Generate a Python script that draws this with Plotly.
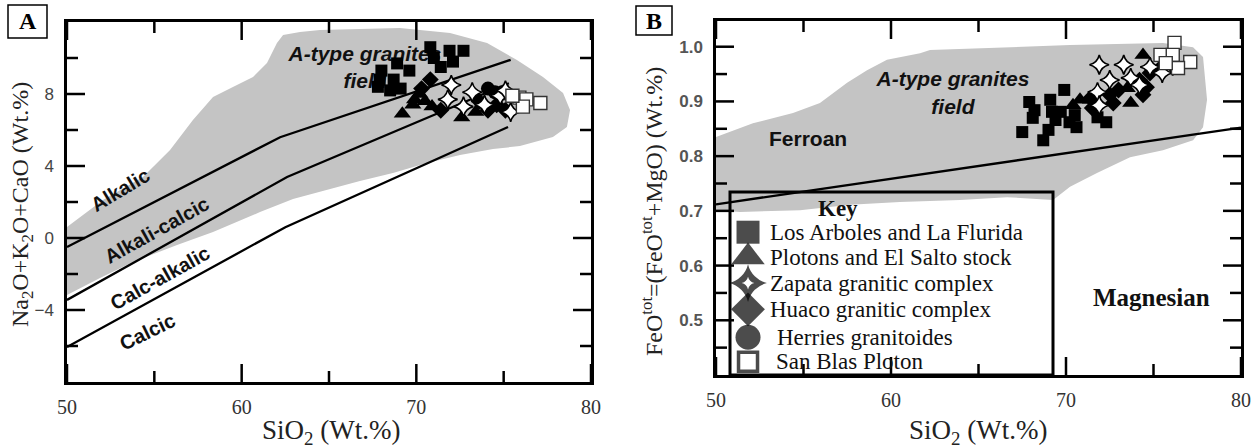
import plotly.graph_objects as go

W, H = 1255, 448

# ---------------- Panel A : MALI index vs SiO2 ----------------
field_a_sio2 = [50.0, 51.89, 53.78, 56.30, 58.36, 61.05, 62.94, 64.89, 66.77, 68.66, 70.61, 72.50,
                74.39, 75.93, 77.82, 78.62, 78.80, 78.40, 77.25, 75.76, 74.05, 71.93, 69.06, 64.48,
                63.34, 62.37, 62.02, 61.45, 60.65, 59.50, 58.36, 57.21, 55.90, 54.35, 52.06, 50.0]
field_a_mali = [-3.17, -2.22, -1.33, -0.39, 0.33, 1.44, 2.17, 2.67, 3.17, 3.61, 4.17, 4.61,
                4.94, 5.11, 5.61, 6.17, 7.11, 8.06, 8.94, 9.89, 10.83, 11.39, 11.67, 11.56,
                11.44, 11.28, 10.83, 9.72, 8.94, 8.39, 7.83, 6.56, 4.89, 3.39, 2.11, 0.61]

alkalic_sio2 = [50.0, 62.2, 75.4]
alkalic_mali = [-0.5, 5.6, 9.9]
alkcalc_sio2 = [50.0, 62.6, 71.0, 75.3]
alkcalc_mali = [-3.44, 3.39, 6.83, 8.6]
calcalk_sio2 = [50.0, 62.5, 75.25]
calcalk_mali = [-6.06, 0.6, 6.17]

arboles_a_sio2 = [68.0, 68.9, 69.6, 67.9, 68.7, 67.8, 68.5, 69.1, 70.8, 71.4, 71.9, 72.7, 72.1, 71.0]
arboles_a_mali = [9.3, 9.7, 9.3, 8.8, 8.8, 8.4, 8.2, 8.3, 10.6, 9.5, 10.4, 10.4, 9.8, 10.0]
plotons_a_sio2 = [69.2, 69.9, 70.5, 70.9, 72.6, 69.8, 73.4, 70.2]
plotons_a_mali = [6.9, 7.7, 7.6, 7.3, 6.7, 7.4, 7.0, 8.0]
huaco_a_sio2 = [70.8, 70.3, 71.4, 74.1, 74.6, 75.1, 73.6]
huaco_a_mali = [8.8, 8.3, 7.1, 7.1, 7.4, 7.1, 7.6]
herries_a_sio2 = [74.1, 74.5]
herries_a_mali = [8.3, 8.1]
zapata_a_sio2 = [72.0, 71.8, 72.7, 73.2, 74.8, 75.4, 73.9, 75.1]
zapata_a_mali = [8.5, 7.7, 7.3, 8.1, 7.9, 7.0, 7.4, 8.2]
sanblas_a_sio2 = [75.9, 76.3, 77.1, 76.1, 75.5]
sanblas_a_mali = [7.8, 7.7, 7.5, 7.3, 7.9]

# ---------------- Panel B : Fe-number vs SiO2 ----------------
field_b_sio2 = [50.0, 51.37, 54.8, 57.66, 60.51, 63.94, 66.63, 69.26, 70.23, 71.77, 73.66, 75.54,
                77.26, 77.83, 78.06, 77.83, 77.26, 75.54, 70.23, 62.23, 61.66, 59.77, 58.63, 57.49,
                55.94, 54.4, 52.11, 50.0]
field_b_fe = [0.701, 0.698, 0.701, 0.711, 0.716, 0.720, 0.725, 0.720, 0.744, 0.769, 0.798, 0.811,
              0.829, 0.853, 0.903, 0.981, 0.999, 1.007, 1.003, 0.994, 0.988, 0.976, 0.957, 0.934,
              0.897, 0.879, 0.860, 0.835]

ferroan_sio2 = [50.0, 80.0]
ferroan_fe = [0.712, 0.852]

arboles_b_sio2 = [67.5, 67.9, 68.2, 68.1, 69.1, 69.2, 69.4, 69.0, 68.7, 69.9, 70.2, 70.6, 70.5, 71.8, 72.3, 69.7]
arboles_b_fe = [0.844, 0.899, 0.884, 0.870, 0.903, 0.881, 0.866, 0.848, 0.829, 0.921, 0.862, 0.853,
                0.875, 0.871, 0.862, 0.881]
plotons_b_sio2 = [70.8, 70.4, 74.4, 73.5, 73.7, 71.4]
plotons_b_fe = [0.903, 0.893, 0.985, 0.924, 0.897, 0.903]
huaco_b_sio2 = [71.4, 71.5, 72.5, 72.7, 73.0, 74.2, 74.6, 74.8, 75.4, 75.8, 74.4]
huaco_b_fe = [0.906, 0.888, 0.912, 0.897, 0.921, 0.939, 0.926, 0.952, 0.961, 0.972, 0.912]
zapata_b_sio2 = [71.9, 73.3, 72.5, 71.8, 71.9, 73.7, 74.8, 75.5, 76.1, 74.2]
zapata_b_fe = [0.967, 0.967, 0.939, 0.917, 0.893, 0.943, 0.963, 0.952, 0.965, 0.930]
sanblas_b_sio2 = [76.2, 75.4, 76.1, 77.1, 76.4, 75.7]
sanblas_b_fe = [1.007, 0.985, 0.985, 0.972, 0.961, 0.970]

key_names = ["Los Arboles and La Flurida", "Plotons and El Salto stock", "Zapata granitic complex",
             "Huaco granitic complex", "Herries granitoides", "San Blas Ploton"]

# tick values
sio2_major = [50, 60, 70, 80]
sio2_minor = [55, 65, 75]
mali_major = [-4, 0, 4, 8]
mali_minor = [-6, -2, 2, 6, 10]
fe_major = [0.5, 0.6, 0.7, 0.8, 0.9, 1.0]
fe_minor = [0.45, 0.55, 0.65, 0.75, 0.85, 0.95]

# ---------------- styling ----------------
FIELD = "#c4c4c4"
SERIF = "Liberation Serif, Times New Roman, serif"
SANS = "Liberation Sans, Arial, sans-serif"

STYLES = {
    "arboles": dict(symbol="square", size=12, color="black", line=dict(width=0)),
    "plotons": dict(symbol="triangle-up", size=15, color="black", line=dict(width=0)),
    "huaco": dict(symbol="diamond", size=13, color="black", line=dict(width=0)),
    "herries": dict(symbol="circle", size=14, color="black", line=dict(width=0)),
    "zapata": dict(symbol="star-diamond", size=14, color="white", line=dict(width=1.6, color="black")),
    "sanblas": dict(symbol="square", size=13, color="white", line=dict(width=1.4, color="#333")),
}

# plot areas in pixels: (left, right, top, bottom)
BOX_A = (67, 591, 22, 382)
BOX_B = (716, 1241, 21, 375)


def px_x(p):
    return p / W


def px_y(p):
    return 1 - p / H


fig = go.Figure()


def add_panel(xa, ya, field_x, field_y, lines, series, label_x, label_y):
    fig.add_trace(go.Scatter(x=field_x, y=field_y, fill="toself", fillcolor=FIELD, mode="lines",
                             line=dict(width=0), hoverinfo="skip", showlegend=False, xaxis=xa, yaxis=ya))
    for lx, ly in lines:
        fig.add_trace(go.Scatter(x=lx, y=ly, mode="lines", line=dict(color="black", width=2.3),
                                 hoverinfo="skip", showlegend=False, xaxis=xa, yaxis=ya))
    fig.add_trace(go.Scatter(x=[label_x], y=[label_y], mode="text",
                             text=["<b><i>A-type granites<br>field</i></b>"],
                             textfont=dict(family=SANS, size=21, color="#111"),
                             textposition="middle center", hoverinfo="skip", showlegend=False,
                             xaxis=xa, yaxis=ya))
    for key, sx, sy in series:
        fig.add_trace(go.Scatter(x=sx, y=sy, mode="markers", marker=STYLES[key],
                                 showlegend=False, xaxis=xa, yaxis=ya))


add_panel("x", "y", field_a_sio2, field_a_mali,
          [(alkalic_sio2, alkalic_mali), (alkcalc_sio2, alkcalc_mali), (calcalk_sio2, calcalk_mali)],
          [("arboles", arboles_a_sio2, arboles_a_mali), ("plotons", plotons_a_sio2, plotons_a_mali),
           ("huaco", huaco_a_sio2, huaco_a_mali), ("herries", herries_a_sio2, herries_a_mali),
           ("zapata", zapata_a_sio2, zapata_a_mali), ("sanblas", sanblas_a_sio2, sanblas_a_mali)],
          67.06, 9.36)

add_panel("x2", "y2", field_b_sio2, field_b_fe,
          [(ferroan_sio2, ferroan_fe)],
          [("arboles", arboles_b_sio2, arboles_b_fe), ("plotons", plotons_b_sio2, plotons_b_fe),
           ("huaco", huaco_b_sio2, huaco_b_fe),
           ("zapata", zapata_b_sio2, zapata_b_fe), ("sanblas", sanblas_b_sio2, sanblas_b_fe)],
          63.54, 0.912)

# key symbols inside the Fe-number panel
key_x = 51.83
key_rows = [0.661, 0.6155, 0.568, 0.520, 0.469, 0.424]
fig.add_trace(go.Scatter(
    x=[key_x] * 6, y=key_rows, mode="markers", showlegend=False, hoverinfo="skip",
    marker=dict(symbol=["square", "triangle-up", "star-diamond", "diamond", "circle", "square"],
                size=[23, 29, 27, 26, 25, 19],
                color=["black", "black", "black", "black", "black", "white"],
                line=dict(width=[0, 0, 0, 0, 0, 3.5], color="black")),
    xaxis="x2", yaxis="y2"))
# white core of the Zapata key symbol
fig.add_trace(go.Scatter(x=[key_x], y=[key_rows[2]], mode="markers", showlegend=False, hoverinfo="skip",
                         marker=dict(symbol="star-diamond", size=9, color="white", line=dict(width=0)),
                         xaxis="x2", yaxis="y2"))

annotations = []
key_text_x = [52.97, 52.97, 52.97, 52.97, 53.37, 53.31]
for name, tx, ty in zip(key_names, key_text_x, key_rows):
    annotations.append(dict(x=tx, y=ty, xref="x2", yref="y2", text=name, showarrow=False,
                            xanchor="left", yanchor="middle",
                            font=dict(family=SERIF, size=23, color="#111")))
annotations.append(dict(x=56.97, y=0.705, xref="x2", yref="y2", text="<b>Key</b>", showarrow=False,
                        font=dict(family=SERIF, size=23, color="#111")))

# field names
for txt, x, y, ang in [("Alkalic", 53.03, 2.67, -31), ("Alkali-calcic", 55.15, 0.44, -29),
                       ("Calc-alkalic", 55.32, -2.22, -29), ("Calcic", 54.58, -5.22, -26)]:
    annotations.append(dict(x=x, y=y, xref="x", yref="y", text="<b>%s</b>" % txt, showarrow=False,
                            textangle=ang, font=dict(family=SANS, size=20, color="#111")))
annotations.append(dict(x=55.26, y=0.833, xref="x2", yref="y2", text="<b>Ferroan</b>", showarrow=False,
                        font=dict(family=SANS, size=21, color="#111")))
annotations.append(dict(x=74.86, y=0.541, xref="x2", yref="y2", text="<b>Magnesian</b>", showarrow=False,
                        font=dict(family=SERIF, size=25, color="#111")))

# axis titles
for txt, cx, cy, ang, sz in [("SiO<sub>2</sub> (Wt.%)", 331, 432, 0, 27),
                             ("SiO<sub>2</sub> (Wt.%)", 978, 432, 0, 27),
                             ("Na<sub>2</sub>O+K<sub>2</sub>O+CaO (Wt.%)", 22, 205, -90, 24),
                             ("FeO<sup>tot</sup>=(FeO<sup>tot</sup>+MgO) (Wt.%)", 652, 212, -90, 24)]:
    annotations.append(dict(x=px_x(cx), y=px_y(cy), xref="paper", yref="paper", text=txt, showarrow=False,
                            textangle=ang, xanchor="center", yanchor="middle",
                            font=dict(family=SERIF, size=sz, color="#222")))

# panel letters
for txt, x0, x1, y0, y1 in [("A", 8, 47, 5, 38), ("B", 636, 672, 6, 35)]:
    annotations.append(dict(x=px_x((x0 + x1) / 2), y=px_y((y0 + y1) / 2), xref="paper", yref="paper",
                            text="<b>%s</b>" % txt, showarrow=False, xanchor="center", yanchor="middle",
                            font=dict(family=SERIF, size=24, color="black")))

shapes = []
for x0, x1, y0, y1 in [(8, 47, 5, 38), (636, 672, 6, 35)]:
    shapes.append(dict(type="rect", xref="paper", yref="paper", x0=px_x(x0), x1=px_x(x1),
                       y0=px_y(y1), y1=px_y(y0), line=dict(color="black", width=1.5)))
# key frame
shapes.append(dict(type="rect", xref="paper", yref="paper", x0=px_x(730), x1=px_x(1053),
                   y0=px_y(375), y1=px_y(192), line=dict(color="black", width=3)))


def tick_marks(xa, ya, box, xmaj, xmin, ymaj, ymin, major=18, minor=11):
    """Inward tick marks on all four sides of a panel, placed on the axis scales."""
    w = box[1] - box[0]
    h = box[3] - box[2]
    out = []
    tick = dict(type="line", line=dict(color="black", width=2.5), layer="above")
    for vals, ln in [(xmaj, major), (xmin, minor)]:
        for v in vals:
            out.append(dict(tick, xref=xa, yref=ya + " domain", x0=v, x1=v, y0=0, y1=ln / h))
            out.append(dict(tick, xref=xa, yref=ya + " domain", x0=v, x1=v, y0=1, y1=1 - ln / h))
    for vals, ln in [(ymaj, major), (ymin, minor)]:
        for v in vals:
            out.append(dict(tick, xref=xa + " domain", yref=ya, y0=v, y1=v, x0=0, x1=ln / w))
            out.append(dict(tick, xref=xa + " domain", yref=ya, y0=v, y1=v, x0=1, x1=1 - ln / w))
    return out


shapes += tick_marks("x", "y", BOX_A, sio2_major, sio2_minor, mali_major, mali_minor)
shapes += tick_marks("x2", "y2", BOX_B, sio2_major, sio2_minor, fe_major, fe_minor)

common = dict(showgrid=False, zeroline=False, showline=True, linecolor="black", linewidth=2.5,
              mirror=True, ticks="", layer="above traces")

xfont = dict(family=SERIF, size=20, color="#333")

fig.update_layout(
    width=W, height=H, margin=dict(l=0, r=0, t=0, b=0, autoexpand=False),
    paper_bgcolor="white", plot_bgcolor="white", showlegend=False,
    xaxis=dict(domain=[px_x(BOX_A[0]), px_x(BOX_A[1])], range=[50, 80], anchor="y", tickvals=sio2_major,
               tickfont=xfont, ticklabelstandoff=5, **common),
    yaxis=dict(domain=[px_y(BOX_A[3]), px_y(BOX_A[2])], range=[-8, 12], anchor="x", tickvals=mali_major,
               tickfont=dict(family=SANS, size=17, color="#444"), ticklabelstandoff=7, **common),
    xaxis2=dict(domain=[px_x(BOX_B[0]), px_x(BOX_B[1])], range=[50, 80], anchor="y2", tickvals=sio2_major,
                tickfont=xfont, ticklabelstandoff=5, **common),
    yaxis2=dict(domain=[px_y(BOX_B[3]), px_y(BOX_B[2])], range=[0.4, 1.047], anchor="x2",
                tickvals=fe_major, ticktext=["%.1f" % v for v in fe_major],
                tickfont=dict(family=SANS, size=17, color="#555", weight="bold"), ticklabelstandoff=7,
                **common),
    annotations=annotations, shapes=shapes,
)

fig.write_html("out.html")
